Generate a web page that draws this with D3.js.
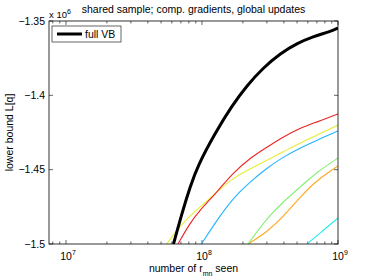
<!DOCTYPE html>
<html>
<head>
<meta charset="utf-8">
<script src="https://cdn.jsdelivr.net/npm/d3@7"></script>
<style>
  body { margin: 0; background: #fff; }
  text { font-family: "Liberation Sans", Arial, sans-serif; }
</style>
</head>
<body>
<div id="chart"></div>
<script>
// values (y in units of 10^6)
var xTicks = [1e7, 1e8, 1e9];
var yTicks = [-1.5, -1.45, -1.4, -1.35];

var fullVB = [
  [6.17e7, -1.5], [7.13e7, -1.4791], [8.16e7, -1.4617], [9.35e7, -1.4469],
  [1.25e8, -1.4253], [1.66e8, -1.407], [2.14e8, -1.3934], [2.81e8, -1.3816],
  [3.75e8, -1.3719], [5.0e8, -1.365], [6.55e8, -1.3605], [8.74e8, -1.3571],
  [1e9, -1.3547]
];
var redRun = [
  [6.66e7, -1.5], [8.16e7, -1.4859], [9.67e7, -1.4771], [1.29e8, -1.465],
  [1.69e8, -1.4522], [2.25e8, -1.4422], [3.01e8, -1.4348], [3.94e8, -1.428],
  [5.26e8, -1.422], [7.01e8, -1.4179], [1e9, -1.4125]
];
var yellowRun = [
  [5.5e7, -1.5], [7.13e7, -1.4859], [9.67e7, -1.4751], [1.29e8, -1.465],
  [1.69e8, -1.4556], [2.25e8, -1.4496], [3.01e8, -1.4435], [3.94e8, -1.4381],
  [5.26e8, -1.4321], [7.01e8, -1.4267], [1e9, -1.42]
];
var blueRun = [
  [9.9e7, -1.5], [1.29e8, -1.4839], [1.69e8, -1.4691], [2.25e8, -1.4583],
  [3.01e8, -1.4489], [3.94e8, -1.4415], [5.26e8, -1.4354], [7.01e8, -1.4301],
  [1e9, -1.424]
];
var greenRun = [
  [2.18e8, -1.5], [3.01e8, -1.4825], [3.94e8, -1.4718], [5.26e8, -1.4617],
  [7.01e8, -1.4516], [1e9, -1.4422]
];
var orangeRun = [
  [2.18e8, -1.5], [3.01e8, -1.4919], [3.94e8, -1.4818], [5.26e8, -1.4684],
  [7.01e8, -1.457], [1e9, -1.4475]
];
var cyanRun = [
  [5.92e8, -1.5], [7.38e8, -1.4926], [1e9, -1.4825]
];

var runs = [
  {data: cyanRun, color: "#22eeee"},
  {data: orangeRun, color: "#ffa820"},
  {data: greenRun, color: "#88ee77"},
  {data: blueRun, color: "#22b4ff"},
  {data: yellowRun, color: "#e4ee30"},
  {data: redRun, color: "#ee2222"}
];

var W = 373, H = 280;
var margin = {top: 21, right: 35, bottom: 36, left: 49};
var width = W - margin.left - margin.right;
var height = H - margin.top - margin.bottom;

var svg = d3.select("#chart").append("svg")
    .attr("width", W).attr("height", H);
var g = svg.append("g")
    .attr("transform", "translate(" + margin.left + "," + margin.top + ")");

var x = d3.scaleLog().domain([7.5e6, 1e9]).range([0, width]);
var y = d3.scaleLinear().domain([-1.5, -1.35]).range([height, 0]);

g.append("clipPath").attr("id", "clip")
  .append("rect").attr("width", width).attr("height", height);

// minor log ticks
var minor = [];
for (var e = 6; e <= 8; e++) {
  for (var k = 1; k <= 9; k++) {
    var v = k * Math.pow(10, e);
    if (v >= 7.5e6 && v <= 1e9) minor.push(v);
  }
}
minor.push(1e9);

var xAxis = g.append("g")
  .attr("transform", "translate(0," + height + ")")
  .call(d3.axisBottom(x).tickValues(xTicks).tickSize(0)
    .tickFormat(function () { return ""; }));
xAxis.select(".domain").remove();

// x tick labels as 10^n
xTicks.forEach(function (t) {
  var lab = g.append("text")
    .attr("x", x(t) + 2).attr("y", height + 16)
    .attr("text-anchor", "middle")
    .style("font-size", "10.5px");
  lab.append("tspan").text("10");
  lab.append("tspan").attr("dy", -5).style("font-size", "7px")
    .text(Math.round(Math.log10(t)));
});

// tick marks (inside, both sides)
g.selectAll(".mtb").data(minor).enter().append("line")
  .attr("x1", function (d) { return x(d); }).attr("x2", function (d) { return x(d); })
  .attr("y1", height).attr("y2", function (d) {
    return xTicks.indexOf(d) >= 0 ? height - 4 : height - 2.5;
  })
  .attr("stroke", "#000").attr("stroke-width", 0.6);
g.selectAll(".mtt").data(minor).enter().append("line")
  .attr("x1", function (d) { return x(d); }).attr("x2", function (d) { return x(d); })
  .attr("y1", 0).attr("y2", function (d) {
    return xTicks.indexOf(d) >= 0 ? 4 : 2.5;
  })
  .attr("stroke", "#000").attr("stroke-width", 0.6);

g.selectAll(".ytl").data(yTicks).enter().append("line")
  .attr("x1", 0).attr("x2", 4)
  .attr("y1", function (d) { return y(d); }).attr("y2", function (d) { return y(d); })
  .attr("stroke", "#000").attr("stroke-width", 0.6);
g.selectAll(".ytr").data(yTicks).enter().append("line")
  .attr("x1", width).attr("x2", width - 4)
  .attr("y1", function (d) { return y(d); }).attr("y2", function (d) { return y(d); })
  .attr("stroke", "#000").attr("stroke-width", 0.6);

g.selectAll(".ylab").data(yTicks).enter().append("text")
  .attr("x", -4).attr("y", function (d) { return y(d) + 3.5; })
  .attr("text-anchor", "end")
  .style("font-size", "10.5px")
  .text(function (d) { return "\u2212" + Math.abs(d).toString(); });

// smooth through the read points
var line = d3.line()
  .x(function (d) { return x(d[0]); })
  .y(function (d) { return y(d[1]); })
  .curve(d3.curveBasis);

var plot = g.append("g").attr("clip-path", "url(#clip)");
runs.forEach(function (r) {
  plot.append("path").datum(r.data)
    .attr("d", line)
    .attr("fill", "none")
    .attr("stroke", r.color)
    .attr("stroke-width", 1.1);
});
plot.append("path").datum(fullVB)
  .attr("d", line)
  .attr("fill", "none")
  .attr("stroke", "#000")
  .attr("stroke-width", 3);

// axes box
g.append("rect").attr("width", width).attr("height", height)
  .attr("fill", "none").attr("stroke", "#000").attr("stroke-width", 0.8);

// legend
var leg = g.append("g").attr("transform", "translate(3,5)");
leg.append("rect").attr("width", 69).attr("height", 16)
  .attr("fill", "#fff").attr("stroke", "#000").attr("stroke-width", 0.6);
leg.append("line").attr("x1", 5).attr("x2", 30).attr("y1", 8).attr("y2", 8)
  .attr("stroke", "#000").attr("stroke-width", 3);
leg.append("text").attr("x", 33).attr("y", 11.5)
  .style("font-size", "10.5px").text("full VB");

// exponent label
var ex = svg.append("text").attr("x", 49).attr("y", 18)
  .style("font-size", "9.5px");
ex.append("tspan").text("x 10");
ex.append("tspan").attr("dy", -4).style("font-size", "7px").text("6");

// title
svg.append("text").attr("x", margin.left + width / 2).attr("y", 13)
  .attr("text-anchor", "middle").style("font-size", "10.5px")
  .text("shared sample; comp. gradients, global updates");

// x label
var xl = svg.append("text").attr("x", margin.left + width / 2).attr("y", 272)
  .attr("text-anchor", "middle").style("font-size", "10.5px");
xl.append("tspan").text("number of r");
xl.append("tspan").attr("dy", 3.5).style("font-size", "7px").text("mn");
xl.append("tspan").attr("dy", -3.5).text(" seen");

// y label
svg.append("text")
  .attr("transform", "translate(13," + (margin.top + height / 2) + ") rotate(-90)")
  .attr("text-anchor", "middle").style("font-size", "10.5px")
  .text("lower bound L[q]");
</script>
</body>
</html>
